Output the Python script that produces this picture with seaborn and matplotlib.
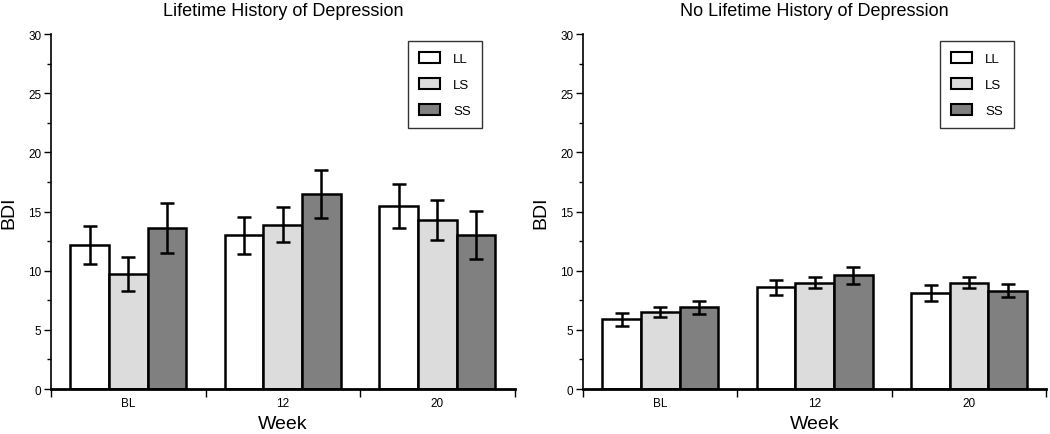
import pandas as pd
import seaborn as sns
import matplotlib.pyplot as plt
from matplotlib.ticker import MultipleLocator, FixedLocator

weeks = ['BL', '12', '20']
genotypes = ['LL', 'LS', 'SS']

# Lifetime history of depression
hist_means = [[12.2, 9.7, 13.6], [13.0, 13.9, 16.5], [15.5, 14.3, 13.0]]
hist_errs = [[1.6, 1.45, 2.1], [1.55, 1.45, 2.05], [1.85, 1.7, 2.05]]

# No lifetime history of depression
nohist_means = [[5.9, 6.5, 6.9], [8.6, 9.0, 9.6], [8.1, 9.0, 8.3]]
nohist_errs = [[0.55, 0.45, 0.55], [0.65, 0.45, 0.7], [0.65, 0.5, 0.55]]

colors = ['#ffffff', '#dcdcdc', '#808080']

plt.rcParams['font.family'] = ['Liberation Sans', 'DejaVu Sans']

fig = plt.figure(figsize=(10.5, 4.35), dpi=100)
ax1 = fig.add_axes([0.0486, 0.1034, 0.4414, 0.816])
ax2 = fig.add_axes([0.5552, 0.1034, 0.4414, 0.816])


def draw_panel(ax, means, errs, title):
    rows = []
    for i, w in enumerate(weeks):
        for j, g in enumerate(genotypes):
            rows.append({'Week': w, 'Genotype': g, 'BDI': means[i][j], 'err': errs[i][j]})
    df = pd.DataFrame(rows)
    sns.barplot(data=df, x='Week', y='BDI', hue='Genotype', order=weeks,
                hue_order=genotypes, palette=colors, errorbar=None,
                width=0.75, edgecolor='black', linewidth=1.8, ax=ax)
    # error bars at bar centres
    for j, g in enumerate(genotypes):
        cont = ax.containers[j]
        sub = df[df['Genotype'] == g].set_index('Week').loc[weeks]
        xs = [p.get_x() + p.get_width() / 2 for p in cont.patches]
        ax.errorbar(xs, sub['BDI'], yerr=sub['err'], fmt='none', ecolor='black',
                    elinewidth=1.8, capsize=5, capthick=1.8, zorder=5)

    ax.set_ylim(0, 30)
    ax.set_xlim(-0.5, 2.5)
    ax.yaxis.set_major_locator(MultipleLocator(5))
    ax.yaxis.set_minor_locator(MultipleLocator(2.5))
    ax.xaxis.set_major_locator(FixedLocator([0, 1, 2]))
    ax.xaxis.set_minor_locator(FixedLocator([-0.5, 0.5, 1.5, 2.5]))
    ax.set_xticklabels(weeks)
    ax.tick_params(axis='x', which='major', length=0, labelsize=8.5, pad=6)
    ax.tick_params(axis='x', which='minor', length=6, width=1)
    ax.tick_params(axis='y', which='major', length=5, width=1, labelsize=8.5, pad=2)
    ax.tick_params(axis='y', which='minor', length=3, width=1)
    for s in ['top', 'right']:
        ax.spines[s].set_visible(False)
    ax.spines['left'].set_linewidth(1.2)
    ax.spines['bottom'].set_linewidth(2)
    ax.set_ylabel('BDI', fontsize=14, labelpad=8)
    ax.set_xlabel('Week', fontsize=14, labelpad=4)
    ax.set_title(title, fontsize=13, pad=14)

    leg = ax.legend(loc='upper right', bbox_to_anchor=(0.929, 0.98), fontsize=9.5,
                    frameon=True, fancybox=False, edgecolor='black',
                    handlelength=1.6, handleheight=0.9, labelspacing=1.0,
                    borderpad=0.8, handletextpad=1.0, borderaxespad=0)
    leg.get_frame().set_linewidth(1)
    for h in leg.get_patches():
        h.set_linewidth(1.5)


draw_panel(ax1, hist_means, hist_errs, 'Lifetime History of Depression')
draw_panel(ax2, nohist_means, nohist_errs, 'No Lifetime History of Depression')

fig.savefig('out.png', dpi=100, facecolor='white')
